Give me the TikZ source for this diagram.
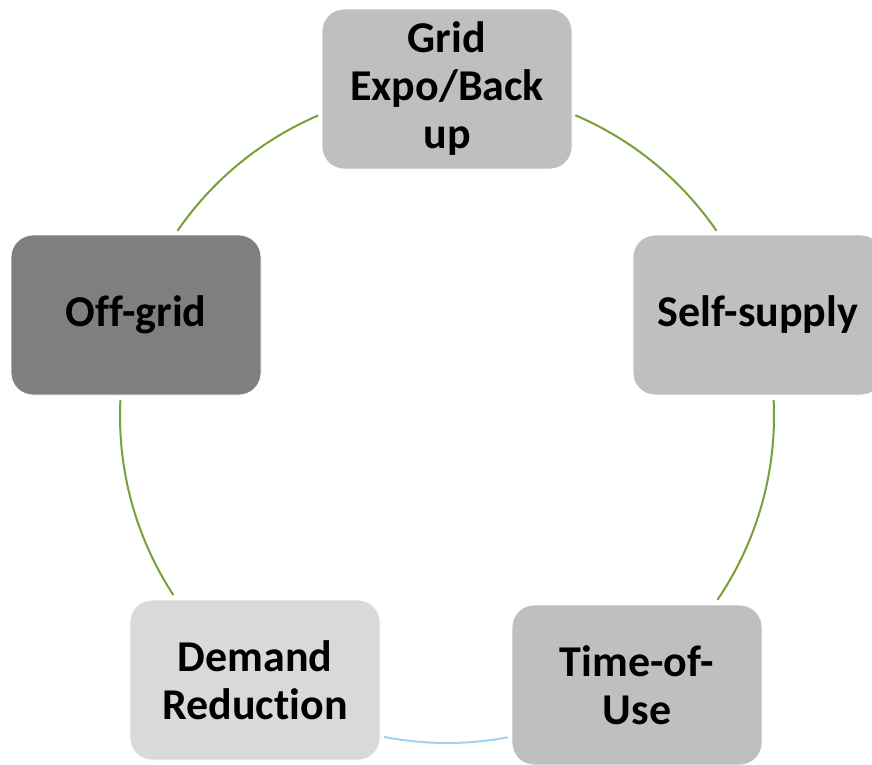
\documentclass[tikz,border=0pt]{standalone}
\usepackage{fontspec}
\setmainfont{Carlito}[Ligatures=NoCommon]
\usetikzlibrary{calc}
\definecolor{boxmid}{HTML}{BFBFBF}
\definecolor{boxlight}{HTML}{D9D9D9}
\definecolor{boxdark}{HTML}{7F7F7F}
\definecolor{arcgreen}{HTML}{76A03A}
\definecolor{arcblue}{HTML}{9DD3F5}
\tikzset{
  stagebox/.style={rectangle, rounded corners=22pt, minimum width=250pt, minimum height=160pt,
    draw=white, line width=0.8pt, align=center, inner sep=0pt,
    font=\fontsize{44}{48}\selectfont\bfseries, text=black},
  cyclearc/.style={line width=2pt, arcgreen},
  bluearc/.style={line width=2pt, arcblue},
}
\begin{document}
\begin{tikzpicture}[x=1pt,y=-1pt]
\useasboundingbox (0,0) rectangle (872,764);
\coordinate (C) at (447,416);
\node[stagebox, fill=boxmid] (grid) at (447,89) {Grid\\Expo/Back\\up};
\node[stagebox, fill=boxmid] (self) at (758,315) {Self-supply};
\node[stagebox, fill=boxmid] (tou) at (637,685) {Time-of-\\Use};
\node[stagebox, fill=boxlight] (demand) at (255,680) {Demand\\Reduction};
\node[stagebox, fill=boxdark] (off) at (136,315) {Off-grid};
\draw[cyclearc] ($(C)+(66.9:327pt)$) arc[start angle=66.9, end angle=34.5, radius=327pt];
\draw[cyclearc] ($(C)+(2.8:327pt)$) arc[start angle=2.8, end angle=-34.2, radius=327pt];
\draw[bluearc] ($(C)+(-79.3:327pt)$) arc[start angle=-79.3, end angle=-101.1, radius=327pt];
\draw[cyclearc] ($(C)+(213.2:327pt)$) arc[start angle=213.2, end angle=177.2, radius=327pt];
\draw[cyclearc] ($(C)+(145.5:327pt)$) arc[start angle=145.5, end angle=113.2, radius=327pt];
\end{tikzpicture}
\end{document}
